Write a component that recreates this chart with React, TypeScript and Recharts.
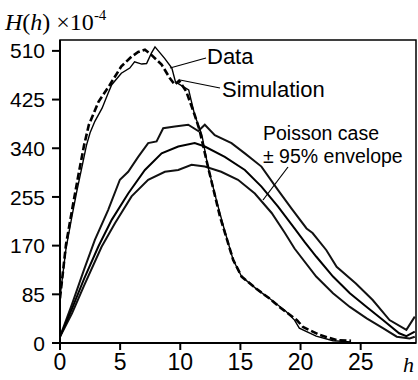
import React from "react";
import { LineChart, Line, XAxis, YAxis, ReferenceArea } from "recharts";

// observed H(h), x 10^-4
const dataH = [0, 0.5, 1, 1.4, 1.8, 2.2, 2.5, 2.9, 3.5, 4.0, 4.3, 5.1, 5.8, 6.2, 6.8, 7.2, 7.6, 7.9, 8.7, 9.3, 9.6, 10.2, 10.7, 10.9, 11.2, 11.8, 12.3, 13.0, 13.6, 14.4, 15.1, 16.3, 17.4, 18.8, 19.5, 19.9, 21.3, 22.7, 24.2];
const dataV = [80, 165, 222, 265, 305, 345, 367, 387, 410, 436, 451, 471, 480, 491, 487, 488, 506, 517, 497, 480, 456, 448, 442, 424, 398, 363, 308, 250, 203, 145, 116, 95, 78, 55, 40, 26, 12, 4, 2];

// simulation
const simH = [0, 0.5, 1, 1.5, 2.0, 2.4, 3.2, 4.15, 5.1, 5.95, 6.5, 7.06, 7.6, 8.45, 9.14, 9.55, 9.9, 10.5, 11.2, 11.6, 12.3, 13.3, 14.4, 15.1, 16.3, 17.4, 18.3, 19.7, 20.2, 21.6, 23, 24.2];
const simV = [78, 172, 232, 290, 345, 381, 421, 451, 483, 500, 508, 512, 503, 486, 462, 451, 458, 439, 398, 372, 308, 221, 145, 116, 95, 78, 62, 40, 28, 14, 5, 4];

// poisson case: mean and 95% envelope
const meanH = [0, 1, 2, 3.18, 4.3, 5.67, 7.06, 8.45, 9.83, 11.2, 12.04, 13.7, 15.37, 16.75, 18.13, 19.5, 20.35, 21.3, 22.7, 24.1, 25.5, 26.85, 28.2, 28.8, 29.5];
const meanV = [11, 60, 112, 168, 215, 261, 302, 331, 343, 349, 343, 325, 302, 273, 238, 200, 176, 151, 116, 87, 63, 40, 17, 12, 20];

const upH = [0, 1, 2, 2.9, 4.0, 4.98, 5.67, 6.5, 7.33, 8.03, 8.58, 9.55, 10.66, 11.5, 12.04, 12.87, 14.26, 15.37, 16.75, 18.13, 19.24, 20.5, 21.0, 22.15, 23.0, 24.6, 26.0, 27.4, 28.8, 29.5];
const upV = [11, 68, 128, 180, 232, 285, 299, 325, 349, 352, 375, 378, 381, 370, 381, 363, 349, 331, 308, 267, 235, 200, 192, 162, 133, 104, 75, 40, 23, 46];

const loH = [0, 1, 2, 3.46, 4.57, 5.95, 7.33, 8.72, 9.83, 10.94, 12.04, 13.4, 14.8, 16.2, 17.6, 18.7, 19.5, 21.3, 22.7, 24.1, 25.5, 26.85, 28.0, 29.07, 29.5];
const loV = [11, 52, 100, 168, 209, 256, 285, 299, 302, 311, 308, 299, 285, 261, 227, 192, 165, 116, 87, 63, 43, 26, 11, 8, 11];

const xTicks = [0, 5, 10, 15, 20, 25];
const yTicks = [0, 85, 170, 255, 340, 425, 510];

const zip = (hs: number[], vs: number[]) => hs.map((h, i) => ({ h, v: vs[i] }));

const sans = "'Liberation Sans', Arial, sans-serif";
const serif = "'Liberation Serif', 'Times New Roman', serif";

const YTick = ({ x, y, payload }: any) => (
  <text x={x} y={y} dy="0.36em" textAnchor="end" fontSize={21} fontFamily={sans} fill="#000">
    {payload.value}
  </text>
);

const XTick = ({ x, y, payload }: any) => (
  <text x={x} y={y} dy={20} textAnchor="middle" fontSize={23} fontFamily={sans} fill="#000">
    {payload.value}
  </text>
);

export default function App() {
  return (
    <div style={{ position: "absolute", left: 0, top: 0, width: 418, height: 380, background: "#fff" }}>
      <LineChart width={418} height={380} margin={{ top: 40, right: 2, left: 0, bottom: 0 }}>
        <ReferenceArea x1={0} x2={29.6} y1={0} y2={529} fill="none" stroke="#000" strokeWidth={1.5} ifOverflow="visible" />
        <XAxis
          type="number"
          dataKey="h"
          domain={[0, 29.6]}
          ticks={xTicks}
          height={37}
          tickSize={7}
          tickMargin={0}
          tick={<XTick />}
          axisLine={{ stroke: "#000", strokeWidth: 2 }}
          tickLine={{ stroke: "#000", strokeWidth: 2 }}
          allowDataOverflow
        />
        <YAxis
          type="number"
          dataKey="v"
          domain={[0, 529]}
          ticks={yTicks}
          width={60}
          tickSize={8}
          tickMargin={7}
          tick={<YTick />}
          axisLine={{ stroke: "#000", strokeWidth: 2 }}
          tickLine={{ stroke: "#000", strokeWidth: 2 }}
          allowDataOverflow
        />
        <Line data={zip(upH, upV)} dataKey="v" type="linear" stroke="#111" strokeWidth={2} dot={false} activeDot={false} isAnimationActive={false} />
        <Line data={zip(loH, loV)} dataKey="v" type="linear" stroke="#111" strokeWidth={2} dot={false} activeDot={false} isAnimationActive={false} />
        <Line data={zip(meanH, meanV)} dataKey="v" type="linear" stroke="#000" strokeWidth={2} dot={false} activeDot={false} isAnimationActive={false} />
        <Line data={zip(dataH, dataV)} dataKey="v" type="linear" stroke="#000" strokeWidth={1.4} dot={false} activeDot={false} isAnimationActive={false} />
        <Line data={zip(simH, simV)} dataKey="v" type="linear" stroke="#000" strokeWidth={2.6} strokeDasharray="7 3" dot={false} activeDot={false} isAnimationActive={false} />
      </LineChart>
      <svg width={418} height={380} style={{ position: "absolute", left: 0, top: 0, pointerEvents: "none" }}>
        <text x={5} y={30} fontFamily={serif} fontSize={24} fill="#000">
          <tspan fontStyle="italic">H</tspan>(<tspan fontStyle="italic">h</tspan>) ×10
          <tspan dy={-10} fontSize={15}>-4</tspan>
        </text>
        <text x={403} y={372} fontFamily={serif} fontStyle="italic" fontSize={22} fill="#000">h</text>
        <line x1={170} y1={68} x2={206} y2={58} stroke="#000" strokeWidth={1.2} />
        <text x={207} y={64} fontFamily={sans} fontSize={22} fill="#000">Data</text>
        <line x1={180} y1={80} x2={220} y2={88} stroke="#000" strokeWidth={1.2} />
        <text x={222} y={97} fontFamily={sans} fontSize={22} fill="#000">Simulation</text>
        <text x={263} y={140} fontFamily={sans} fontSize={19.5} fill="#000">Poisson case</text>
        <text x={263} y={163} fontFamily={sans} fontSize={19.5} fill="#000">± 95% envelope</text>
        <line x1={263} y1={200} x2={288} y2={167} stroke="#000" strokeWidth={1.2} />
      </svg>
    </div>
  );
}
